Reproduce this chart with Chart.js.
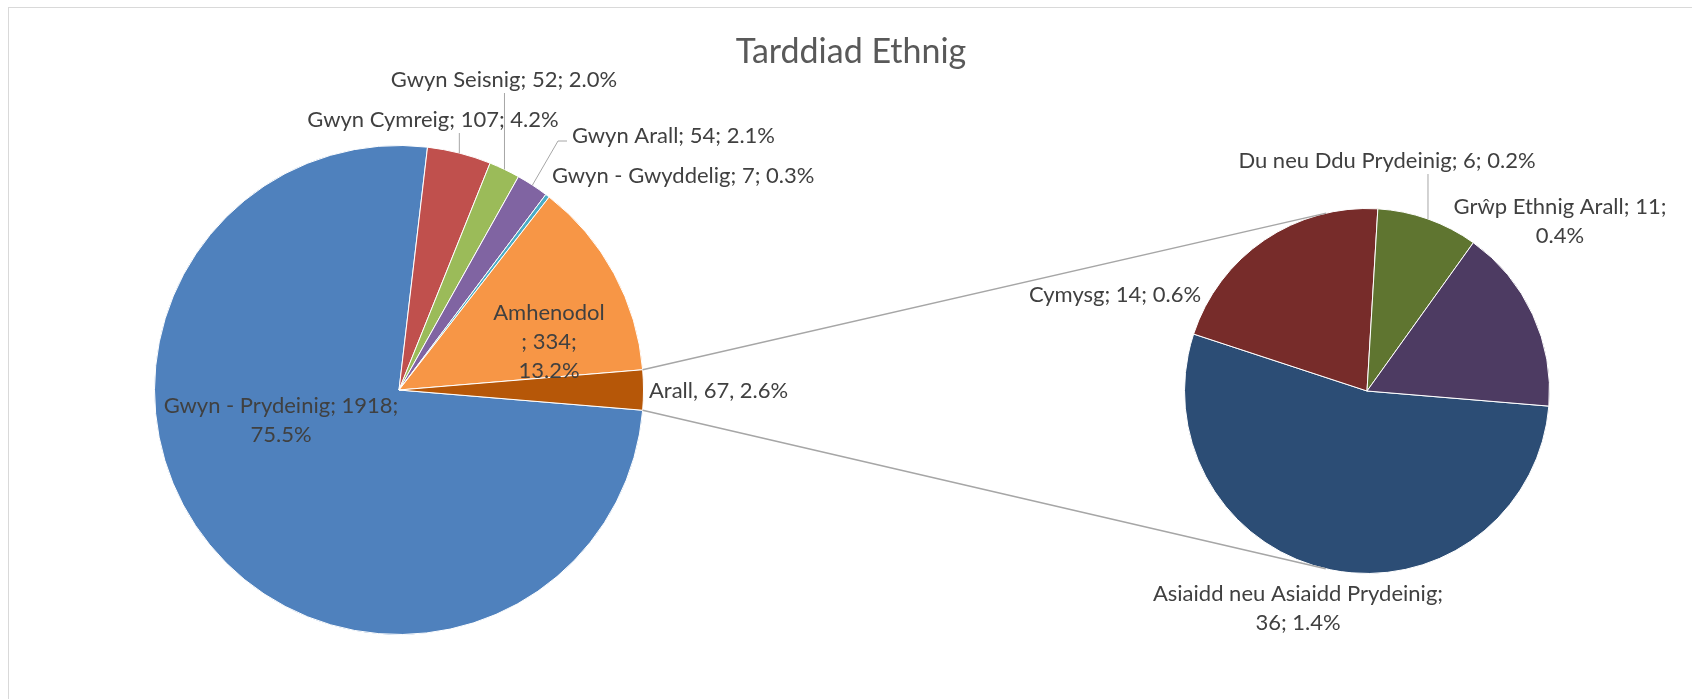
<!DOCTYPE html>
<html>
<head>
<meta charset="utf-8">
<script src="https://cdn.jsdelivr.net/npm/chart.js@4/dist/chart.umd.min.js"></script>
<style>
html, body { margin: 0; padding: 0; background: #fff; overflow: hidden; }
#wrap { position: relative; width: 1692px; height: 699px; }
#frame { position: absolute; left: 8px; top: 7px; width: 1800px; height: 800px; border: 1px solid #d9d9d9; box-sizing: border-box; }
canvas { position: absolute; left: 0; top: 0; }
</style>
</head>
<body>
<div id="wrap">
  <div id="frame"></div>
  <canvas id="mainPie" width="1692" height="699"></canvas>
  <canvas id="subPie" width="1692" height="699"></canvas>
</div>
<script>
const chartTitle = 'Tarddiad Ethnig';

const mainLabels = ['Gwyn - Prydeinig', 'Gwyn Cymreig', 'Gwyn Seisnig', 'Gwyn Arall', 'Gwyn - Gwyddelig', 'Amhenodol', 'Arall'];
const mainValues = [1918, 107, 52, 54, 7, 334, 67];
const mainColors = ['#4F81BD', '#C0504D', '#9BBB59', '#8064A2', '#4BACC6', '#F79646', '#B65708'];

const subLabels = ['Asiaidd neu Asiaidd Prydeinig', 'Cymysg', 'Du neu Ddu Prydeinig', 'Grŵp Ethnig Arall'];
const subValues = [36, 14, 6, 11];
const subColors = ['#2C4D75', '#772C2A', '#5F7530', '#4D3B62'];

const grandTotal = mainValues.reduce((a, b) => a + b, 0);
const fontFamily = 'Lato, "Open Sans", sans-serif';
const labelSize = 22;
const lineH = 29;

// label placement, offsets from the pie centre (first line baseline)
// breaks = token indexes where a new line starts
const mainSpots = [
    { dx: -118, dy: 23, align: 'center', breaks: [5] },
    { dx: 34, dy: -263, align: 'center', leader: 'up' },
    { dx: 105, dy: -303, align: 'center', leader: 'up' },
    { dx: 173, dy: -247, align: 'left', leader: 'elbow' },
    { dx: 153, dy: -207, align: 'left' },
    { dx: 150, dy: -70, align: 'center', breaks: [1, 5] },
    { dx: 250, dy: 8, align: 'left', sep: ',' }
];
const subSpots = [
    { dx: -69, dy: 210, align: 'center', breaks: [2] },
    { dx: -252, dy: -89, align: 'center' },
    { dx: 20, dy: -223, align: 'center', leader: 'up' },
    { dx: 193, dy: -177, align: 'center', breaks: [5] }
];

function labelLines(name, value, spot) {
    const sep = spot.sep || ';';
    const pct = (value / grandTotal * 100).toFixed(1) + '%';
    const tokens = [name, sep, ' ', String(value), sep, ' ', pct];
    const cuts = [0].concat(spot.breaks || [], [tokens.length]);
    const lines = [];
    for (let i = 0; i < cuts.length - 1; i++) {
        lines.push(tokens.slice(cuts[i], cuts[i + 1]).join('').trim());
    }
    return lines;
}

function drawLabels(chart, spots, names, values) {
    const ctx = chart.ctx;
    const arcs = chart.getDatasetMeta(0).data;
    ctx.save();
    ctx.font = labelSize + 'px ' + fontFamily;
    ctx.fillStyle = '#404040';
    ctx.strokeStyle = '#a6a6a6';
    ctx.lineWidth = 1;
    ctx.textBaseline = 'alphabetic';
    arcs.forEach((arc, i) => {
        const s = spots[i];
        const x = arc.x + s.dx;
        const y = arc.y + s.dy;
        if (s.leader) {
            const mid = (arc.startAngle + arc.endAngle) / 2;
            const ex = arc.x + arc.outerRadius * Math.cos(mid);
            const ey = arc.y + arc.outerRadius * Math.sin(mid);
            ctx.beginPath();
            ctx.moveTo(ex, ey);
            if (s.leader === 'up') {
                ctx.lineTo(ex, y + 6);
            } else {
                ctx.lineTo(x - 14, y - 2);
                ctx.lineTo(x - 5, y - 2);
            }
            ctx.stroke();
        }
        ctx.textAlign = s.align;
        labelLines(names[i], values[i], s).forEach((t, k) => {
            ctx.fillText(t, x, y + k * lineH);
        });
    });
    ctx.restore();
}

// the "Arall" slice sits centred on 3 o'clock, second pie uses the same start
const firstAngle = 90 + (mainValues[mainValues.length - 1] / 2) / grandTotal * 360;

const mainPlugin = {
    id: 'mainLabels',
    afterDatasetsDraw(chart) {
        const ctx = chart.ctx;
        ctx.save();
        ctx.font = '34px ' + fontFamily;
        ctx.fillStyle = '#595959';
        ctx.textAlign = 'center';
        ctx.fillText(chartTitle, 851, 63);
        ctx.restore();
        drawLabels(chart, mainSpots, mainLabels, mainValues);
    }
};

function tangentPoint(p, c, r, upper) {
    const d = Math.hypot(p.x - c.x, p.y - c.y);
    const phi = Math.atan2(p.y - c.y, p.x - c.x);
    const a = Math.acos(r / d);
    const t1 = { x: c.x + r * Math.cos(phi + a), y: c.y + r * Math.sin(phi + a) };
    const t2 = { x: c.x + r * Math.cos(phi - a), y: c.y + r * Math.sin(phi - a) };
    if (upper) return t1.y < t2.y ? t1 : t2;
    return t1.y > t2.y ? t1 : t2;
}

const subPlugin = {
    id: 'subLabels',
    afterDatasetsDraw(chart) {
        const ctx = chart.ctx;
        const arcs = mainChart.getDatasetMeta(0).data;
        const other = arcs[arcs.length - 1];
        const sub = chart.getDatasetMeta(0).data[0];
        const c = { x: sub.x, y: sub.y };
        const R = other.outerRadius;
        const pTop = { x: other.x + R * Math.cos(other.startAngle), y: other.y + R * Math.sin(other.startAngle) };
        const pBot = { x: other.x + R * Math.cos(other.endAngle), y: other.y + R * Math.sin(other.endAngle) };
        const tTop = tangentPoint(pTop, c, sub.outerRadius, true);
        const tBot = tangentPoint(pBot, c, sub.outerRadius, false);
        ctx.save();
        ctx.strokeStyle = '#a6a6a6';
        ctx.lineWidth = 1.5;
        ctx.beginPath();
        ctx.moveTo(pTop.x, pTop.y);
        ctx.lineTo(tTop.x, tTop.y);
        ctx.moveTo(pBot.x, pBot.y);
        ctx.lineTo(tBot.x, tBot.y);
        ctx.stroke();
        ctx.restore();
        drawLabels(chart, subSpots, subLabels, subValues);
    }
};

const baseOptions = {
    responsive: false,
    animation: false,
    devicePixelRatio: 1,
    rotation: firstAngle,
    plugins: {
        legend: { display: false },
        tooltip: { enabled: false },
        title: { display: false }
    }
};

const mainChart = new Chart(document.getElementById('mainPie'), {
    type: 'pie',
    data: {
        labels: mainLabels,
        datasets: [{
            data: mainValues,
            backgroundColor: mainColors,
            borderColor: '#ffffff',
            borderWidth: 1
        }]
    },
    options: Object.assign({}, baseOptions, {
        layout: { padding: { left: 154, right: 1048, top: 145, bottom: 64 } }
    }),
    plugins: [mainPlugin]
});

const subChart = new Chart(document.getElementById('subPie'), {
    type: 'pie',
    data: {
        labels: subLabels,
        datasets: [{
            data: subValues,
            backgroundColor: subColors,
            borderColor: '#ffffff',
            borderWidth: 1
        }]
    },
    options: Object.assign({}, baseOptions, {
        layout: { padding: { left: 1184, right: 142, top: 208, bottom: 125 } }
    }),
    plugins: [subPlugin]
});
</script>
</body>
</html>
